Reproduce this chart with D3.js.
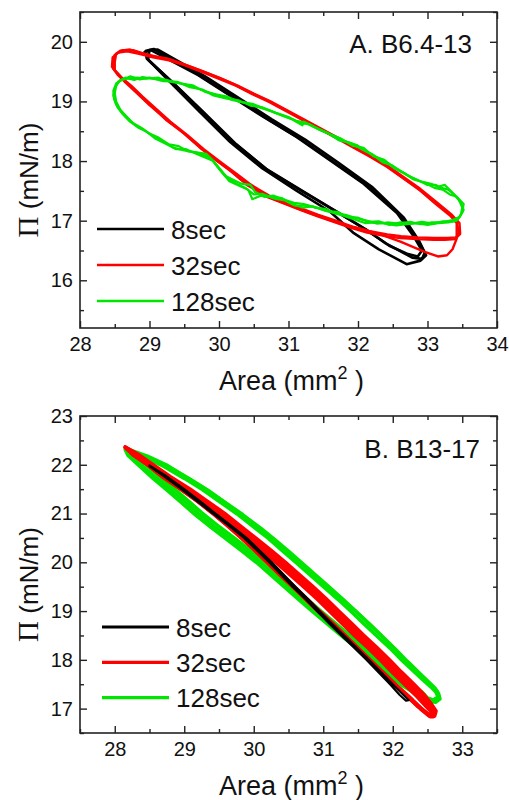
<!DOCTYPE html>
<html>
<head>
<meta charset="utf-8">
<script src="https://cdn.jsdelivr.net/npm/d3@7"></script>
<style>
  html, body { margin: 0; padding: 0; background: #fff; }
  svg { display: block; }
  text { font-family: "Liberation Sans", Arial, Helvetica, sans-serif; fill: #111; }
</style>
</head>
<body>
<svg id="chart" width="509" height="800"></svg>
<script>
// ---- series ----
const seriesNames = ["8sec", "32sec", "128sec"];
const seriesColors = ["#000000", "#ff0000", "#00e600"];

// ---- tick values ----
const xTicksA = [28, 29, 30, 31, 32, 33, 34];
const yTicksA = [16, 17, 18, 19, 20];
const xTicksB = [28, 29, 30, 31, 32, 33];
const yTicksB = [17, 18, 19, 20, 21, 22, 23];

// ---- panel A: B6.4-13, area (mm2) vs surface pressure (mN/m), several cycles each ----
const loopsA8 = [
  [[28.95,19.85],[29.06,19.88],[29.73,19.43],[30.69,18.71],[31.17,18.37],[31.65,17.98],[32.13,17.59],[32.61,17.09],[32.85,16.70],[32.96,16.46],[32.92,16.36],[32.78,16.38],[32.40,16.62],[32.13,16.84],[31.65,17.18],[31.17,17.52],[30.69,17.86],[30.21,18.31],[29.73,18.86],[29.30,19.35],[28.96,19.72],[28.95,19.85]],
  [[29.00,19.86],[29.12,19.87],[29.80,19.42],[30.76,18.70],[31.24,18.36],[31.72,17.97],[32.20,17.57],[32.66,17.05],[32.88,16.66],[32.98,16.42],[32.90,16.33],[32.70,16.27],[32.30,16.52],[31.94,16.79],[31.60,17.15],[31.12,17.50],[30.62,17.88],[30.16,18.32],[29.70,18.85],[29.25,19.38],[28.98,19.70],[29.00,19.86]],
  [[28.93,19.83],[29.02,19.86],[29.70,19.44],[30.64,18.74],[31.12,18.40],[31.60,18.01],[32.08,17.62],[32.56,17.13],[32.80,16.74],[32.92,16.50],[32.86,16.40],[32.72,16.44],[32.45,16.58],[32.10,16.86],[31.68,17.16],[31.20,17.49],[30.72,17.83],[30.25,18.28],[29.76,18.84],[29.35,19.30],[28.98,19.70],[28.93,19.83]]
];
const loopsA32 = [
  [[28.48,19.62],[28.50,19.78],[28.58,19.85],[28.72,19.87],[28.86,19.82],[29.05,19.76],[29.25,19.72],[29.50,19.62],[29.73,19.52],[30.00,19.40],[30.21,19.29],[30.45,19.15],[30.69,19.02],[30.95,18.86],[31.17,18.72],[31.40,18.57],[31.65,18.42],[31.90,18.26],[32.13,18.11],[32.40,17.93],[32.61,17.75],[32.85,17.55],[33.09,17.32],[33.30,17.13],[33.42,16.99],[33.45,16.80],[33.40,16.69],[33.25,16.68],[33.09,16.68],[32.85,16.69],[32.61,16.71],[32.40,16.74],[32.13,16.80],[31.90,16.88],[31.65,16.98],[31.40,17.08],[31.17,17.18],[30.95,17.28],[30.69,17.40],[30.52,17.52],[30.40,17.60],[30.21,17.80],[30.00,17.98],[29.73,18.22],[29.50,18.46],[29.25,18.68],[29.05,18.90],[28.86,19.10],[28.70,19.28],[28.58,19.42],[28.48,19.55],[28.48,19.62]],
  [[28.46,19.58],[28.47,19.74],[28.55,19.82],[28.68,19.84],[28.85,19.80],[29.05,19.74],[29.28,19.69],[29.52,19.60],[29.76,19.49],[30.02,19.37],[30.25,19.26],[30.48,19.12],[30.72,18.99],[30.98,18.83],[31.20,18.69],[31.44,18.54],[31.68,18.39],[31.93,18.23],[32.16,18.08],[32.42,17.90],[32.64,17.72],[32.88,17.52],[33.12,17.28],[33.32,17.09],[33.42,16.96],[33.42,16.70],[33.36,16.52],[33.28,16.42],[33.15,16.40],[32.95,16.48],[32.61,16.65],[32.30,16.78],[32.05,16.86],[31.80,16.93],[31.60,17.01],[31.35,17.11],[31.12,17.21],[30.90,17.31],[30.66,17.43],[30.48,17.57],[30.30,17.70],[30.15,17.85],[29.95,18.02],[29.70,18.26],[29.46,18.50],[29.22,18.72],[29.00,18.94],[28.82,19.14],[28.66,19.31],[28.54,19.45],[28.46,19.58]],
  [[28.50,19.66],[28.52,19.80],[28.62,19.86],[28.76,19.86],[28.92,19.80],[29.10,19.75],[29.30,19.70],[29.55,19.60],[29.78,19.50],[30.04,19.38],[30.26,19.27],[30.50,19.13],[30.74,19.00],[31.00,18.84],[31.22,18.70],[31.46,18.55],[31.70,18.40],[31.95,18.24],[32.18,18.09],[32.44,17.91],[32.66,17.73],[32.90,17.53],[33.14,17.30],[33.34,17.11],[33.46,16.96],[33.47,16.78],[33.42,16.72],[33.28,16.71],[33.10,16.71],[32.86,16.72],[32.62,16.74],[32.42,16.77],[32.15,16.83],[31.92,16.90],[31.68,17.00],[31.42,17.10],[31.20,17.20],[30.98,17.30],[30.72,17.42],[30.56,17.53],[30.44,17.62],[30.26,17.78],[30.05,17.96],[29.78,18.20],[29.55,18.43],[29.30,18.66],[29.10,18.87],[28.90,19.08],[28.74,19.26],[28.60,19.40],[28.50,19.52],[28.50,19.66]]
];
const loopsA128 = [
  [[28.50,19.22],[28.55,19.33],[28.65,19.40],[28.78,19.36],[28.90,19.41],[29.05,19.38],[29.25,19.36],[29.45,19.30],[29.62,19.27],[29.80,19.16],[29.95,19.12],[30.12,19.08],[30.30,18.99],[30.48,18.96],[30.65,18.88],[30.85,18.79],[31.05,18.70],[31.20,18.60],[31.22,18.66],[31.40,18.56],[31.55,18.48],[31.72,18.35],[31.90,18.30],[32.05,18.20],[32.20,18.12],[32.35,17.98],[32.50,17.92],[32.62,17.82],[32.78,17.72],[32.90,17.66],[33.05,17.62],[33.15,17.57],[33.25,17.60],[33.35,17.48],[33.45,17.36],[33.50,17.22],[33.48,17.10],[33.42,17.00],[33.30,16.97],[33.15,16.96],[33.00,16.93],[32.85,16.96],[32.70,16.94],[32.55,16.92],[32.40,16.95],[32.25,16.97],[32.10,16.96],[31.95,17.02],[31.80,17.08],[31.65,17.13],[31.50,17.18],[31.35,17.24],[31.20,17.22],[31.05,17.28],[30.90,17.38],[30.75,17.40],[30.60,17.42],[30.48,17.36],[30.42,17.52],[30.30,17.58],[30.15,17.66],[30.05,17.80],[29.95,17.95],[29.88,18.05],[29.78,18.10],[29.65,18.15],[29.50,18.18],[29.35,18.22],[29.20,18.33],[29.05,18.42],[28.92,18.52],[28.80,18.60],[28.70,18.70],[28.60,18.82],[28.52,18.95],[28.48,19.10],[28.50,19.22]],
  [[28.48,19.18],[28.52,19.30],[28.60,19.36],[28.72,19.42],[28.86,19.37],[29.00,19.40],[29.20,19.34],[29.40,19.33],[29.58,19.24],[29.76,19.20],[29.92,19.10],[30.10,19.05],[30.28,19.02],[30.45,18.93],[30.62,18.90],[30.82,18.81],[31.00,18.74],[31.18,18.63],[31.30,18.62],[31.45,18.52],[31.60,18.45],[31.75,18.38],[31.92,18.26],[32.08,18.22],[32.22,18.08],[32.38,18.02],[32.52,17.88],[32.66,17.80],[32.80,17.69],[32.95,17.64],[33.10,17.55],[33.22,17.52],[33.32,17.44],[33.42,17.40],[33.52,17.28],[33.50,17.14],[33.45,17.04],[33.38,16.99],[33.22,16.99],[33.08,16.95],[32.92,16.98],[32.76,16.95],[32.60,16.97],[32.45,16.93],[32.30,16.99],[32.15,16.98],[32.00,17.05],[31.85,17.06],[31.70,17.15],[31.55,17.16],[31.40,17.22],[31.25,17.26],[31.10,17.25],[30.95,17.34],[30.80,17.37],[30.62,17.45],[30.50,17.44],[30.38,17.55],[30.25,17.62],[30.12,17.72],[30.02,17.86],[29.92,18.00],[29.80,18.06],[29.68,18.12],[29.52,18.20],[29.38,18.20],[29.22,18.30],[29.08,18.38],[28.95,18.50],[28.84,18.56],[28.72,18.66],[28.62,18.78],[28.54,18.90],[28.49,19.04],[28.48,19.18]],
  [[28.52,19.26],[28.58,19.36],[28.68,19.38],[28.82,19.40],[28.95,19.38],[29.12,19.40],[29.30,19.33],[29.50,19.29],[29.68,19.22],[29.86,19.15],[30.02,19.09],[30.20,19.02],[30.38,18.98],[30.55,18.91],[30.74,18.84],[30.92,18.76],[31.10,18.68],[31.25,18.64],[31.35,18.58],[31.50,18.50],[31.65,18.42],[31.82,18.33],[31.98,18.27],[32.12,18.16],[32.28,18.06],[32.44,17.96],[32.58,17.86],[32.72,17.76],[32.86,17.68],[33.00,17.60],[33.12,17.60],[33.20,17.55],[33.30,17.52],[33.40,17.42],[33.48,17.30],[33.52,17.18],[33.46,17.06],[33.36,17.01],[33.20,16.97],[33.05,16.97],[32.90,16.94],[32.75,16.98],[32.58,16.95],[32.42,16.97],[32.28,16.95],[32.12,17.00],[31.98,17.04],[31.82,17.10],[31.68,17.12],[31.52,17.20],[31.38,17.22],[31.22,17.28],[31.08,17.30],[30.92,17.36],[30.78,17.42],[30.65,17.40],[30.52,17.48],[30.45,17.60],[30.32,17.62],[30.18,17.70],[30.08,17.76],[29.98,17.90],[29.90,18.02],[29.82,18.12],[29.70,18.14],[29.56,18.16],[29.42,18.25],[29.28,18.28],[29.12,18.40],[29.00,18.46],[28.88,18.56],[28.76,18.64],[28.66,18.76],[28.58,18.86],[28.52,19.00],[28.50,19.14],[28.52,19.26]]
];

// ---- panel B: B13-17 ----
const loopsB8 = [
  [[28.50,21.99],[28.76,21.75],[29.00,21.50],[29.23,21.25],[29.45,21.00],[29.68,20.75],[29.90,20.50],[30.08,20.25],[30.26,20.00],[30.43,19.75],[30.60,19.50],[30.78,19.25],[30.95,19.00],[31.12,18.75],[31.30,18.50],[31.48,18.25],[31.66,18.00],[31.83,17.75],[32.00,17.50],[32.14,17.30],[32.23,17.17],[32.19,17.16],[32.10,17.28],[31.96,17.50],[31.79,17.75],[31.62,18.00],[31.44,18.25],[31.26,18.50],[31.08,18.75],[30.91,19.00],[30.74,19.25],[30.56,19.50],[30.39,19.75],[30.22,20.00],[30.04,20.25],[29.86,20.50],[29.64,20.75],[29.41,21.00],[29.19,21.25],[28.96,21.50],[28.72,21.75],[28.50,21.97]]
];
const loopsB32 = [
  [[28.15,22.36],[28.35,22.20],[28.55,22.00],[28.80,21.75],[29.08,21.50],[29.33,21.25],[29.58,21.00],[29.80,20.75],[30.02,20.50],[30.24,20.25],[30.45,20.00],[30.65,19.75],[30.85,19.50],[31.04,19.25],[31.22,19.00],[31.40,18.75],[31.58,18.50],[31.77,18.25],[31.95,18.00],[32.12,17.75],[32.30,17.50],[32.45,17.28],[32.55,17.10],[32.62,16.95],[32.60,16.85],[32.52,16.86],[32.40,17.00],[32.25,17.20],[32.02,17.50],[31.84,17.75],[31.66,18.00],[31.48,18.25],[31.30,18.50],[31.12,18.75],[30.93,19.00],[30.75,19.25],[30.57,19.50],[30.38,19.75],[30.20,20.00],[30.02,20.25],[29.83,20.50],[29.63,20.75],[29.42,21.00],[29.20,21.25],[28.96,21.50],[28.72,21.75],[28.48,22.00],[28.28,22.20],[28.15,22.36]],
  [[28.17,22.34],[28.36,22.17],[28.53,21.99],[28.76,21.74],[29.03,21.49],[29.27,21.24],[29.52,20.99],[29.74,20.74],[29.96,20.49],[30.18,20.24],[30.39,19.99],[30.59,19.74],[30.79,19.49],[30.98,19.24],[31.16,18.99],[31.34,18.74],[31.52,18.49],[31.71,18.24],[31.89,17.99],[32.06,17.74],[32.24,17.49],[32.40,17.26],[32.51,17.08],[32.59,16.93],[32.57,16.86],[32.50,16.90],[32.37,17.04],[32.22,17.24],[32.00,17.52],[31.82,17.77],[31.64,18.02],[31.46,18.27],[31.28,18.52],[31.10,18.77],[30.91,19.02],[30.73,19.27],[30.55,19.52],[30.36,19.77],[30.18,20.02],[30.00,20.27],[29.81,20.52],[29.61,20.77],[29.40,21.02],[29.18,21.27],[28.94,21.52],[28.70,21.77],[28.46,22.02],[28.26,22.21],[28.17,22.34]],
  [[28.16,22.35],[28.33,22.16],[28.49,21.98],[28.70,21.74],[28.96,21.49],[29.21,21.24],[29.46,20.99],[29.68,20.74],[29.90,20.49],[30.12,20.24],[30.33,19.99],[30.53,19.74],[30.73,19.49],[30.92,19.24],[31.10,18.99],[31.28,18.74],[31.46,18.49],[31.65,18.24],[31.83,17.99],[32.00,17.74],[32.18,17.49],[32.35,17.25],[32.48,17.05],[32.57,16.92],[32.58,16.84],[32.54,16.84],[32.44,16.96],[32.28,17.18],[32.05,17.48],[31.86,17.74],[31.68,17.99],[31.50,18.24],[31.32,18.49],[31.14,18.74],[30.95,18.99],[30.77,19.24],[30.59,19.49],[30.40,19.74],[30.22,19.99],[30.04,20.24],[29.85,20.49],[29.65,20.74],[29.44,20.99],[29.22,21.24],[28.98,21.49],[28.74,21.74],[28.50,21.99],[28.29,22.19],[28.16,22.35]]
];
const loopsB128 = [
  [[28.17,22.33],[28.47,22.18],[28.74,22.00],[29.05,21.73],[29.31,21.50],[29.56,21.25],[29.81,21.00],[30.06,20.72],[30.26,20.50],[30.46,20.25],[30.66,20.00],[30.86,19.75],[31.06,19.50],[31.26,19.25],[31.46,19.00],[31.65,18.74],[31.83,18.50],[32.01,18.25],[32.18,18.00],[32.33,17.80],[32.47,17.60],[32.58,17.45],[32.64,17.35],[32.67,17.22],[32.60,17.15],[32.52,17.17],[32.40,17.30],[32.17,17.50],[31.96,17.75],[31.75,18.00],[31.53,18.25],[31.32,18.50],[31.11,18.75],[30.90,19.00],[30.70,19.25],[30.50,19.50],[30.30,19.75],[30.10,20.00],[29.88,20.25],[29.65,20.50],[29.42,20.75],[29.20,21.00],[29.00,21.25],[28.80,21.50],[28.58,21.75],[28.38,22.00],[28.22,22.20],[28.17,22.33]],
  [[28.15,22.31],[28.48,22.15],[28.76,21.97],[29.08,21.71],[29.34,21.48],[29.60,21.22],[29.84,20.98],[30.10,20.70],[30.30,20.47],[30.50,20.23],[30.70,19.98],[30.90,19.73],[31.10,19.48],[31.30,19.22],[31.49,18.97],[31.68,18.72],[31.86,18.47],[32.04,18.22],[32.21,17.97],[32.36,17.76],[32.50,17.57],[32.61,17.42],[32.66,17.31],[32.68,17.20],[32.62,17.13],[32.50,17.15],[32.36,17.28],[32.13,17.48],[31.92,17.72],[31.71,17.97],[31.50,18.22],[31.28,18.47],[31.07,18.72],[30.86,18.97],[30.66,19.22],[30.46,19.47],[30.26,19.72],[30.06,19.97],[29.84,20.22],[29.61,20.47],[29.38,20.72],[29.16,20.97],[28.96,21.22],[28.76,21.47],[28.55,21.72],[28.35,21.98],[28.19,22.19],[28.15,22.31]],
  [[28.19,22.30],[28.46,22.13],[28.70,21.97],[29.00,21.72],[29.26,21.49],[29.51,21.24],[29.76,20.99],[30.01,20.71],[30.21,20.49],[30.41,20.24],[30.61,19.99],[30.81,19.74],[31.01,19.49],[31.21,19.24],[31.40,18.99],[31.59,18.73],[31.77,18.49],[31.96,18.24],[32.13,17.99],[32.28,17.79],[32.43,17.59],[32.55,17.44],[32.62,17.34],[32.65,17.24],[32.58,17.18],[32.50,17.22],[32.42,17.34],[32.22,17.52],[32.01,17.77],[31.80,18.02],[31.58,18.27],[31.37,18.52],[31.16,18.77],[30.95,19.02],[30.75,19.27],[30.55,19.52],[30.35,19.77],[30.15,20.02],[29.93,20.27],[29.70,20.52],[29.47,20.77],[29.25,21.02],[29.05,21.27],[28.85,21.52],[28.63,21.77],[28.43,22.02],[28.25,22.20],[28.19,22.30]]
];

const dataA = [loopsA8, loopsA32, loopsA128];
const dataB = [loopsB8, loopsB32, loopsB128];

const svg = d3.select("#chart");

function drawPanel(cfg) {
  const x = d3.scaleLinear().domain(cfg.xDomain).range([cfg.left, cfg.right]);
  const y = d3.scaleLinear().domain(cfg.yDomain).range([cfg.bottom, cfg.top]);
  const g = svg.append("g");
  const H = cfg.bottom - cfg.top, W = cfg.right - cfg.left;

  const minor = (lo, hi) => d3.range(Math.ceil(lo * 2), Math.floor(hi * 2) + 1)
      .map(v => v / 2).filter(v => !Number.isInteger(v));
  const xMinor = minor(cfg.xDomain[0], cfg.xDomain[1]);
  const yMinor = minor(cfg.yDomain[0], cfg.yDomain[1]);

  // loops, clipped to the frame
  const clipId = "clip" + cfg.id;
  svg.append("clipPath").attr("id", clipId).append("rect")
    .attr("x", cfg.left).attr("y", cfg.top).attr("width", W).attr("height", H);
  const line = d3.line().x(d => x(d[0])).y(d => y(d[1]));
  const plot = g.append("g").attr("clip-path", `url(#${clipId})`);
  cfg.order.forEach(i => {
    plot.selectAll(null).data(cfg.data[i]).join("path")
      .attr("d", line)
      .attr("fill", "none")
      .attr("stroke", seriesColors[i])
      .attr("stroke-width", cfg.lineWidth[i])
      .attr("stroke-linejoin", "round")
      .attr("stroke-linecap", "round");
  });

  const styleAxis = sel => {
    sel.select(".domain").remove();
    sel.selectAll(".tick line").attr("stroke", "#222").attr("stroke-width", 1.4);
    sel.selectAll(".tick text").style("font-size", "20px").attr("fill", "#111")
      .style("font-family", '"Liberation Sans", Arial, sans-serif');
  };

  // bottom / left with labels, top / right mirrored ticks
  g.append("g").attr("transform", `translate(0,${cfg.bottom})`)
    .call(d3.axisBottom(x).tickValues(cfg.xTicks).tickSize(-7).tickPadding(9).tickFormat(d3.format("d")))
    .call(styleAxis);
  g.append("g").attr("transform", `translate(0,${cfg.bottom})`)
    .call(d3.axisBottom(x).tickValues(xMinor).tickSize(-4).tickFormat(""))
    .call(styleAxis);
  g.append("g").attr("transform", `translate(0,${cfg.top})`)
    .call(d3.axisTop(x).tickValues(cfg.xTicks).tickSize(-7).tickFormat(""))
    .call(styleAxis);
  g.append("g").attr("transform", `translate(0,${cfg.top})`)
    .call(d3.axisTop(x).tickValues(xMinor).tickSize(-4).tickFormat(""))
    .call(styleAxis);
  g.append("g").attr("transform", `translate(${cfg.left},0)`)
    .call(d3.axisLeft(y).tickValues(cfg.yTicks).tickSize(-7).tickPadding(7).tickFormat(d3.format("d")))
    .call(styleAxis);
  g.append("g").attr("transform", `translate(${cfg.left},0)`)
    .call(d3.axisLeft(y).tickValues(yMinor).tickSize(-4).tickFormat(""))
    .call(styleAxis);
  g.append("g").attr("transform", `translate(${cfg.right},0)`)
    .call(d3.axisRight(y).tickValues(cfg.yTicks).tickSize(-7).tickFormat(""))
    .call(styleAxis);
  g.append("g").attr("transform", `translate(${cfg.right},0)`)
    .call(d3.axisRight(y).tickValues(yMinor).tickSize(-4).tickFormat(""))
    .call(styleAxis);

  g.append("rect").attr("x", cfg.left).attr("y", cfg.top).attr("width", W).attr("height", H)
    .attr("fill", "none").attr("stroke", "#222").attr("stroke-width", 1.6);

  // panel label
  g.append("text").attr("x", cfg.labelX).attr("y", cfg.labelY).attr("text-anchor", "end")
    .style("font-size", "26px").text(cfg.label);

  // legend
  seriesNames.forEach((name, i) => {
    const ly = cfg.legendY + i * cfg.legendStep;
    g.append("line").attr("x1", cfg.legendX).attr("x2", cfg.legendX + 67)
      .attr("y1", ly).attr("y2", ly).attr("stroke", seriesColors[i]).attr("stroke-width", cfg.legendWidth);
    g.append("text").attr("x", cfg.legendX + 74).attr("y", ly + 9.5)
      .style("font-size", "26px").text(name);
  });

  // axis titles
  const xt = g.append("text").attr("x", (cfg.left + cfg.right) / 2 + 3).attr("y", cfg.bottom + 62)
    .attr("text-anchor", "middle").style("font-size", "27px");
  xt.append("tspan").text("Area (mm");
  xt.append("tspan").attr("dy", -11).style("font-size", "18px").text("2");
  xt.append("tspan").attr("dy", 11).text(" )");

  const yt = g.append("text")
    .attr("transform", `translate(${cfg.yTitleX},${(cfg.top + cfg.bottom) / 2 + 10}) rotate(-90)`)
    .attr("text-anchor", "middle").style("font-size", "26px");
  yt.append("tspan").style("font-family", '"Liberation Serif", "Times New Roman", serif')
    .style("font-size", "29px").text("Π");
  yt.append("tspan").text(" (mN/m)");
}

drawPanel({
  id: "A", data: dataA, order: [0, 1, 2],
  xDomain: [28, 34], yDomain: [15.2, 20.5],
  left: 80, right: 497, top: 12, bottom: 328,
  xTicks: xTicksA, yTicks: yTicksA,
  lineWidth: [2.6, 2.4, 2.2],
  label: "A. B6.4-13", labelX: 472, labelY: 53,
  legendX: 97, legendY: 229, legendStep: 36, legendWidth: 2.4,
  yTitleX: 38
});

drawPanel({
  id: "B", data: dataB, order: [2, 1, 0],
  xDomain: [27.5, 33.5], yDomain: [16.5, 23],
  left: 80, right: 497, top: 416, bottom: 733,
  xTicks: xTicksB, yTicks: yTicksB,
  lineWidth: [2, 4, 3.4],
  label: "B. B13-17", labelX: 480, labelY: 458,
  legendX: 102, legendY: 627, legendStep: 35.3, legendWidth: 3.2,
  yTitleX: 38
});
</script>
</body>
</html>
